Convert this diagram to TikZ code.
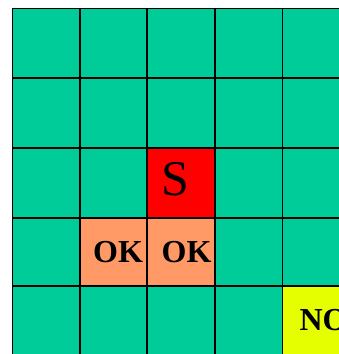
\documentclass[tikz,border=0pt]{standalone}
\usepackage{fontspec}
\setmainfont{Liberation Serif}
\definecolor{teal}{RGB}{0,204,153}
\definecolor{redcell}{RGB}{255,0,0}
\definecolor{salmon}{RGB}{255,153,102}
\definecolor{yellowcell}{RGB}{230,255,0}
\tikzset{
  gridline/.style={line width=1.7pt, black},
  bigtxt/.style={inner sep=0pt, font=\fontsize{50}{50}\selectfont},
  boldtxt/.style={inner sep=0pt, font=\fontsize{32}{32}\selectfont\bfseries}
}
\begin{document}
\begin{tikzpicture}[x=1pt,y=-1pt]
\useasboundingbox (0,0) rectangle (339,354);
\clip (0,0) rectangle (339,354);
\fill[white] (0,0) rectangle (339,354);
\fill[teal] (12,8) rectangle (360,360);
\fill[redcell] (147,148) rectangle (215,218);
\fill[salmon] (80,218) rectangle (215,286);
\fill[yellowcell] (282.5,286) rectangle (360,360);
% grid lines
\foreach \x in {80,147,215,282.5} \draw[gridline] (\x,8) -- (\x,360);
\foreach \y in {78,148,218,286} \draw[gridline] (12,\y) -- (360,\y);
\draw[line width=1pt] (12,360) -- (12,8) -- (360,8);
% texts
\node[bigtxt] (s) at (175,179) {S};
\node[boldtxt] (ok1) at (118,252) {OK};
\node[boldtxt] (ok2) at (186.5,252) {OK};
\node[boldtxt, anchor=west] (no) at (299.3,320) {NO};
\end{tikzpicture}
\end{document}
